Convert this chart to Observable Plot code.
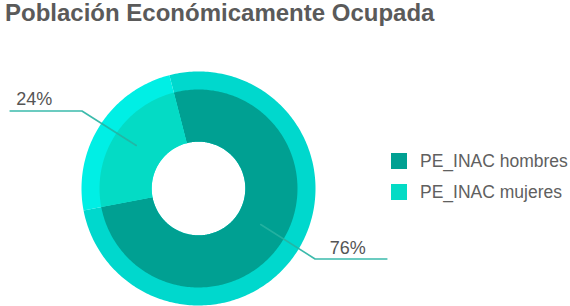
<!DOCTYPE html>
<html><head><meta charset="utf-8">
<script src="https://cdn.jsdelivr.net/npm/d3@7"></script>
<script src="https://cdn.jsdelivr.net/npm/@observablehq/plot@0.6"></script>
<style>
body{margin:0;width:570px;height:306px;overflow:hidden;font-family:"Liberation Sans",Arial,sans-serif;position:relative;background:#fff}
#title{position:absolute;left:5px;top:0;font-size:24px;font-weight:bold;color:#5a5a5a;line-height:26px;white-space:nowrap}
#chart{position:absolute;left:0;top:36px}
#legend{position:absolute;left:391px;top:153px}
.lg-swatch{height:16px !important;margin-bottom:15px !important;padding:0 !important}
.lg-swatch svg{margin-right:13px !important}
</style></head><body>
<div id="title"></div><div id="chart"></div><div id="legend"></div>
<script>
const title = "Población Económicamente Ocupada";
const categories = ["PE_INAC hombres", "PE_INAC mujeres"];
const values = [76, 24];
const labels = ["76%", "24%"];
const innerColors = ["#00a092", "#04dbc5"];
const outerColors = ["#00d8cd", "#00efe5"];

const startAngle = -14.4;
const holeR = 0.4, innerR = 0.846, outerR = 1;
const rad = Math.PI / 180;
const total = d3.sum(values);

document.getElementById("title").textContent = title;

const slices = [];
let a = startAngle;
values.forEach((v, i) => {
  const a0 = a, a1 = a + v / total * 360;
  slices.push({i, cat: categories[i], label: labels[i], a0, a1, mid: (a0 + a1) / 2});
  a = a1;
});

function ring(s, r0, r1) {
  const pts = [];
  const n = Math.max(2, Math.ceil(s.a1 - s.a0));
  for (let k = 0; k <= n; k++) {
    const t = (s.a0 + (s.a1 - s.a0) * k / n) * rad;
    pts.push({id: s.i, cat: s.cat, x: r1 * Math.sin(t), y: r1 * Math.cos(t)});
  }
  for (let k = n; k >= 0; k--) {
    const t = (s.a0 + (s.a1 - s.a0) * k / n) * rad;
    pts.push({id: s.i, cat: s.cat, x: r0 * Math.sin(t), y: r0 * Math.cos(t)});
  }
  return pts;
}

const outerPts = slices.flatMap(s => ring(s, holeR, outerR));
const innerPts = slices.flatMap(s => ring(s, holeR, innerR));

const leader = slices.flatMap(s => {
  const m = s.mid * rad;
  const side = Math.sin(m) >= 0 ? 1 : -1;
  const ey = 1.18 * Math.cos(m) + 0.03;
  return [
    {id: s.i, x: 0.63 * Math.sin(m), y: 0.63 * Math.cos(m) + 0.03},
    {id: s.i, x: 1.18 * Math.sin(m), y: ey},
    {id: s.i, x: side * 1.61, y: ey}
  ];
});
const labelPts = slices.map(s => {
  const m = s.mid * rad;
  const side = Math.sin(m) >= 0 ? 1 : -1;
  return {label: s.label, side, x: side * 1.61, y: 1.18 * Math.cos(m) + 0.03};
});

const chart = Plot.plot({
  width: 570, height: 270,
  marginLeft: 81, marginRight: 255, marginTop: 35, marginBottom: 1,
  x: {domain: [-1, 1], axis: null},
  y: {domain: [-1, 1], axis: null},
  style: {fontFamily: "'Liberation Sans', Arial, sans-serif", background: "white"},
  marks: [
    Plot.line(outerPts, {x: "x", y: "y", z: "id", fill: d => outerColors[d.id], stroke: "none"}),
    Plot.line(innerPts, {x: "x", y: "y", z: "id", fill: d => innerColors[d.id], stroke: "none"}),
    Plot.line(leader, {x: "x", y: "y", z: "id", stroke: "#26b2a2", strokeWidth: 1.6, strokeOpacity: 0.9}),
    Plot.text(labelPts.filter(d => d.side > 0), {x: "x", y: "y", text: "label", textAnchor: "end", lineAnchor: "bottom", dx: -21, dy: -5, fontSize: 18, fill: "#555"}),
    Plot.text(labelPts.filter(d => d.side < 0), {x: "x", y: "y", text: "label", textAnchor: "start", lineAnchor: "bottom", dx: 6, dy: -6, fontSize: 18, fill: "#555"})
  ],
  color: {type: "identity"}
});
document.getElementById("chart").append(chart);

const legend = Plot.legend({
  color: {domain: categories, range: innerColors},
  legend: "swatches",
  className: "lg",
  columns: 1,
  swatchSize: 16,
  style: {fontSize: "17.5px", color: "#606060", fontFamily: "'Liberation Sans', Arial, sans-serif"}
});
document.getElementById("legend").append(legend);
</script>
</body></html>
